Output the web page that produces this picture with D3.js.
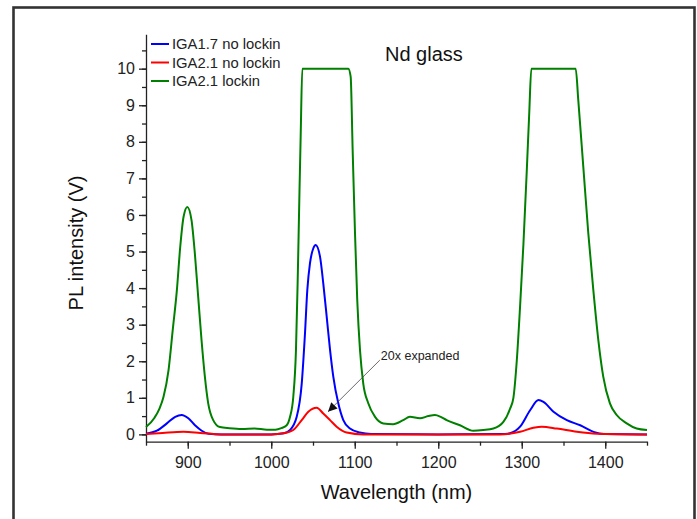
<!DOCTYPE html>
<html>
<head>
  <script src="https://d3js.org/d3.v7.min.js"></script>
  <style>
    body { margin: 0; background: #fff; }
    svg { display: block; font-family: "Liberation Sans", Arial, Helvetica, sans-serif; }
    .axis text { font-size: 16px; fill: #222; }
    .axis path, .axis line { stroke: #222; stroke-width: 1.3; }
    .axisLabel { font-size: 20px; fill: #111; }
    .legend text { font-size: 14.8px; fill: #222; }
  </style>
</head>
<body>
<div id="chart"></div>
<script>
// series data (wavelength nm, intensity V)
const greenWl = [850, 860, 866, 871, 877, 882, 887, 891, 895, 899.5, 904.5, 908.5, 912.5, 916.5, 920.5, 924.5, 930.5, 938.5, 950, 965, 980, 995, 1005, 1012, 1018.5, 1022.5, 1026.4, 1029.6, 1031.6, 1033.6, 1035.3, 1037.2, 1092.3, 1095.1, 1097.5, 1100.3, 1103, 1106.3, 1110.2, 1116.2, 1124.3, 1134.2, 1146, 1158, 1166, 1178, 1188, 1196, 1203, 1210, 1226, 1242, 1254, 1266, 1278, 1286, 1290, 1294, 1298, 1302, 1306, 1309, 1311.5, 1364.6, 1367.7, 1373.7, 1379.7, 1385.7, 1391.7, 1397.6, 1405.6, 1413.7, 1425.7, 1437.6, 1450];
const greenV  = [0.2, 0.45, 0.7, 1.03, 1.76, 2.85, 3.95, 5.13, 5.95, 6.22, 5.86, 4.95, 3.76, 2.58, 1.58, 0.85, 0.39, 0.2, 0.17, 0.15, 0.16, 0.13, 0.13, 0.17, 0.25, 0.48, 1.03, 2.31, 4.13, 6.4, 8.23, 10, 10, 9.78, 7.77, 5.5, 3.67, 2.3, 1.39, 0.85, 0.48, 0.3, 0.28, 0.39, 0.48, 0.44, 0.5, 0.53, 0.48, 0.39, 0.25, 0.1, 0.12, 0.16, 0.34, 0.7, 1.0, 2.0, 3.5, 5.2, 7.2, 8.8, 10, 10, 9.14, 7.32, 5.5, 3.95, 2.58, 1.58, 0.85, 0.53, 0.3, 0.16, 0.12];

const blueWl = [850, 863, 875, 885, 892.7, 900.7, 908.7, 916.7, 925, 940, 1000, 1015, 1022.5, 1030.5, 1036.5, 1040.4, 1043.2, 1046.4, 1050.4, 1053.2, 1058.4, 1062.3, 1066.4, 1070.4, 1074.3, 1080.3, 1086.3, 1094.3, 1106, 1120, 1200, 1280, 1286, 1298, 1310, 1320, 1326, 1338, 1354, 1370, 1386, 1398, 1450];
const blueV  = [0.02, 0.1, 0.3, 0.48, 0.53, 0.44, 0.25, 0.1, 0.02, 0, 0, 0.03, 0.12, 0.48, 1.39, 2.76, 3.95, 4.68, 5.09, 5.18, 4.86, 4.13, 3.22, 2.31, 1.58, 0.85, 0.39, 0.16, 0.05, 0.01, 0, 0.01, 0.03, 0.21, 0.66, 0.94, 0.89, 0.62, 0.39, 0.25, 0.07, 0.01, 0];

const redWl = [850, 870, 895, 915, 940, 1000, 1015, 1026.4, 1036.5, 1044.4, 1054.4, 1062.3, 1070.4, 1078.3, 1090.3, 1110, 1274, 1298, 1314, 1324, 1342, 1366, 1390, 1450];
const redV  = [0.01, 0.04, 0.07, 0.04, 0, 0, 0.03, 0.12, 0.39, 0.62, 0.73, 0.57, 0.39, 0.21, 0.05, 0, 0, 0.07, 0.18, 0.21, 0.16, 0.07, 0.02, 0];

const seriesNames  = ["IGA1.7 no lockin", "IGA2.1 no lockin", "IGA2.1 lockin"];
const seriesColors = ["#0000ff", "#ff0000", "#008000"];

const xTicks = [900, 1000, 1100, 1200, 1300, 1400];
const yTicks = [0, 1, 2, 3, 4, 5, 6, 7, 8, 9, 10];

// annotation: text anchor and arrow tip in data units
const noteText = "20x expanded";
const noteFrom = [1130, 2.03];
const noteTip  = [1068, 0.62];

/*
CANVAS
*/
const width = 697, height = 519;
const margin = {top: 34.3, left: 146, right: 50, bottom: 77.3};
const svg = d3.select("#chart").append("svg")
  .attr("width", width)
  .attr("height", height);

// outer frame
svg.append("rect")
  .attr("x", 13.5).attr("y", 7.5)
  .attr("width", 681).attr("height", 540)
  .attr("fill", "none")
  .attr("stroke", "#333")
  .attr("stroke-width", 2.6);

/*
SCALES
*/
const xScale = d3.scaleLinear()
  .domain([850, 1450])
  .range([margin.left, width - margin.right]);

const yScale = d3.scaleLinear()
  .domain([-0.2, 10.94])
  .range([height - margin.bottom, margin.top]);

/*
AXES
*/
svg.append("g")
  .attr("class", "axis")
  .attr("transform", `translate(0,${height - margin.bottom})`)
  .call(d3.axisBottom(xScale).tickValues(d3.range(850, 1451, 50)).tickSize(4).tickFormat(""))
  .call(g => g.select(".domain").remove());

svg.append("g")
  .attr("class", "axis")
  .attr("transform", `translate(0,${height - margin.bottom})`)
  .call(d3.axisBottom(xScale).tickValues(xTicks).tickSize(7).tickSizeOuter(0).tickPadding(8).tickFormat(d3.format("d")));

svg.append("g")
  .attr("class", "axis")
  .attr("transform", `translate(${margin.left},0)`)
  .call(d3.axisLeft(yScale).tickValues(d3.range(0, 10.6, 0.5)).tickSize(4).tickFormat(""))
  .call(g => g.select(".domain").remove());

svg.append("g")
  .attr("class", "axis")
  .attr("transform", `translate(${margin.left},0)`)
  .call(d3.axisLeft(yScale).tickValues(yTicks).tickSize(7).tickSizeOuter(0).tickPadding(4).tickFormat(d3.format("d")));

/*
AXIS LABELS AND TITLE
*/
svg.append("text")
  .attr("class", "axisLabel")
  .attr("x", (margin.left + width - margin.right) / 2)
  .attr("y", 499)
  .attr("text-anchor", "middle")
  .text("Wavelength (nm)");

svg.append("text")
  .attr("class", "axisLabel")
  .attr("transform", "rotate(-90)")
  .attr("x", -243)
  .attr("y", 83)
  .attr("text-anchor", "middle")
  .text("PL intensity (V)");

svg.append("text")
  .attr("x", 385)
  .attr("y", 61)
  .attr("font-size", "20px")
  .attr("fill", "#111")
  .text("Nd glass");

/*
LINES
*/
const line = d3.line()
  .x(d => xScale(d[0]))
  .y(d => yScale(d[1]))
  .curve(d3.curveMonotoneX);

const series = [
  {name: seriesNames[2], color: seriesColors[2], pts: d3.zip(greenWl, greenV)},
  {name: seriesNames[0], color: seriesColors[0], pts: d3.zip(blueWl, blueV)},
  {name: seriesNames[1], color: seriesColors[1], pts: d3.zip(redWl, redV)}
];

svg.selectAll(".series")
  .data(series)
  .enter()
  .append("path")
    .attr("class", "series")
    .attr("d", d => line(d.pts))
    .attr("fill", "none")
    .attr("stroke", d => d.color)
    .attr("stroke-width", 2)
    .attr("stroke-linejoin", "round");

/*
ANNOTATION
*/
svg.append("defs").append("marker")
  .attr("id", "arrow")
  .attr("viewBox", "0 0 10 10")
  .attr("refX", 10).attr("refY", 5)
  .attr("markerWidth", 9).attr("markerHeight", 9)
  .attr("markerUnits", "userSpaceOnUse")
  .attr("orient", "auto")
  .append("path")
    .attr("d", "M0,0 L10,5 L0,10 z")
    .attr("fill", "#111");

svg.append("line")
  .attr("x1", xScale(noteFrom[0])).attr("y1", yScale(noteFrom[1]))
  .attr("x2", xScale(noteTip[0])).attr("y2", yScale(noteTip[1]))
  .attr("stroke", "#444")
  .attr("stroke-width", 0.8)
  .attr("marker-end", "url(#arrow)");

svg.append("text")
  .attr("x", xScale(noteFrom[0]) + 1)
  .attr("y", yScale(noteFrom[1]) - 0.5)
  .attr("font-size", "12.5px")
  .attr("fill", "#222")
  .text(noteText);

/*
LEGEND
*/
const legend = svg.append("g").attr("class", "legend");
seriesNames.forEach((name, i) => {
  const y = 44 + i * 18.5;
  legend.append("line")
    .attr("x1", 151).attr("x2", 169)
    .attr("y1", y).attr("y2", y)
    .attr("stroke", seriesColors[i])
    .attr("stroke-width", 2);
  legend.append("text")
    .attr("x", 172).attr("y", y + 5)
    .text(name);
});
</script>
</body>
</html>
